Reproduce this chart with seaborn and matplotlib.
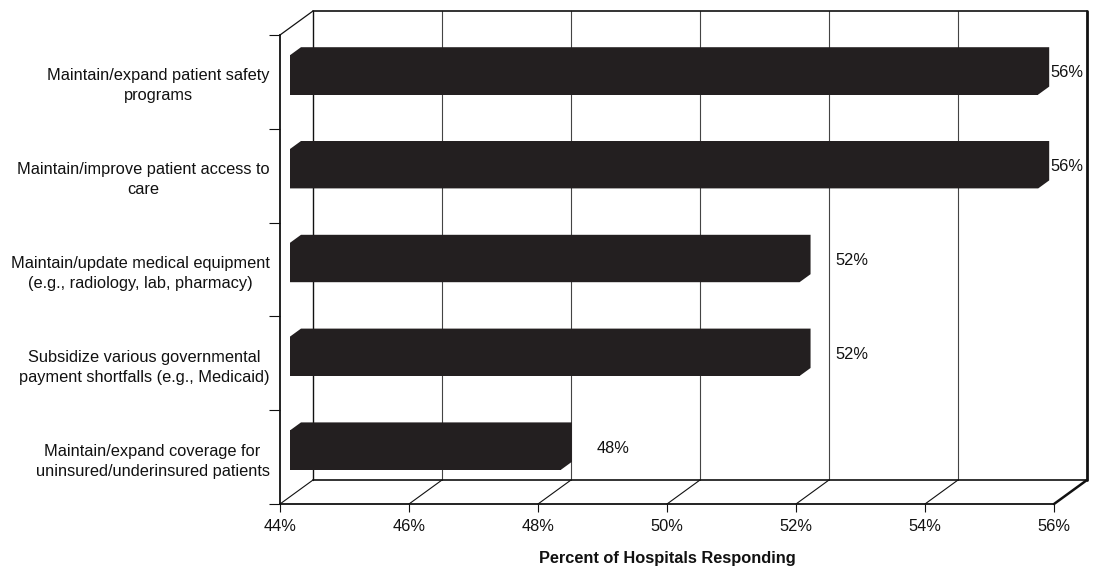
import matplotlib
matplotlib.use("Agg")
import matplotlib.pyplot as plt
import matplotlib.transforms as mtrans
from matplotlib.lines import Line2D
from matplotlib.patches import Polygon
import pandas as pd
import seaborn as sns

# ---- data -------------------------------------------------------------
categories = [
    "Maintain/expand patient safety\nprograms",
    "Maintain/improve patient access to\ncare",
    "Maintain/update medical equipment\n(e.g., radiology, lab, pharmacy)",
    "Subsidize various governmental\npayment shortfalls (e.g., Medicaid)",
    "Maintain/expand coverage for\nuninsured/underinsured patients",
]
percents = [55.6, 55.6, 51.9, 51.9, 48.2]
x_ticks = [44, 46, 48, 50, 52, 54, 56]
x_title = "Percent of Hospitals Responding"

# ---- style ------------------------------------------------------------
BAR = "#231f20"
INK = "#111111"
GRID = "#444444"
FS = 11.8

sns.set_theme(style="white")
plt.rcParams["font.family"] = ["Liberation Sans", "DejaVu Sans"]

DPI = 100
fig = plt.figure(figsize=(10.95, 5.67), dpi=DPI)
# axes = front plane of the pseudo-3D box
ax = fig.add_axes([280 / 1095, 63 / 567, 774 / 1095, 469 / 567])

df = pd.DataFrame({"category": categories, "percent": percents})
sns.barplot(data=df, x="percent", y="category", orient="h", color=BAR,
            saturation=1, width=0.42, ax=ax)

x_lo, x_hi = x_ticks[0], x_ticks[-1]
n = len(categories)
y_top, y_bot = -0.5, n - 0.5
ax.set_xlim(x_lo, x_hi)
ax.set_ylim(y_bot, y_top)


def shifted(dx, dy):
    """transData moved back into the depth of the box by (dx, dy) pixels."""
    return mtrans.offset_copy(ax.transData, fig=fig, x=dx, y=dy, units="dots")


WALL = (33, 24)          # depth of the box
BAR_FRONT = (10, 7)      # front face of the bars
BAR_BACK = (21, 15)      # back face of the bars

wall_tr = shifted(*WALL)
ident = mtrans.IdentityTransform()


def px(tr, x, y):
    return tuple(tr.transform((x, y)))


def seg(p, q, **kw):
    ax.add_line(Line2D([p[0], q[0]], [p[1], q[1]], transform=ident,
                       clip_on=False, **kw))


# back wall: gridlines and frame
for t in x_ticks:
    edge = t in (x_lo, x_hi)
    seg(px(wall_tr, t, y_bot), px(wall_tr, t, y_top),
        color=INK if edge else GRID,
        lw=2.0 if t == x_hi else (1.0 if edge else 0.8), zorder=1)
seg(px(wall_tr, x_lo, y_top), px(wall_tr, x_hi, y_top), color=INK, lw=1.2, zorder=1)
seg(px(wall_tr, x_lo, y_bot), px(wall_tr, x_hi, y_bot), color=INK, lw=1.2, zorder=1)

# floor diagonals and left wall top edge
for t in x_ticks:
    seg(px(ax.transData, t, y_bot), px(wall_tr, t, y_bot), color=INK,
        lw=1.8 if t == x_hi else 0.8, zorder=1)
seg(px(ax.transData, x_lo, y_top), px(wall_tr, x_lo, y_top), color=INK, lw=0.9, zorder=1)

# bars: seaborn's rectangles become the front faces, plus top/right faces
front_tr = shifted(*BAR_FRONT)
back_tr = shifted(*BAR_BACK)
bar_patches = list(ax.patches)
for rect in bar_patches:
    y0 = rect.get_y()
    y1 = y0 + rect.get_height()
    x1 = rect.get_x() + rect.get_width()
    rect.set_x(x_lo)
    rect.set_width(x1 - x_lo)
    rect.set_transform(front_tr)
    rect.set_clip_on(False)
    rect.set_edgecolor("none")
    rect.set_zorder(4)
    # silhouette of the box (y axis is inverted: y0 is the upper edge)
    hexagon = [
        px(front_tr, x_lo, y1), px(front_tr, x_lo, y0),
        px(back_tr, x_lo, y0), px(back_tr, x1, y0),
        px(back_tr, x1, y1), px(front_tr, x1, y1),
    ]
    ax.add_patch(Polygon(hexagon, closed=True, facecolor=BAR, edgecolor="none",
                         transform=ident, clip_on=False, zorder=4))

# value labels
label_tr = shifted(WALL[0], 9)
for i, v in enumerate(percents):
    ax.text(min(v + 0.2, x_hi - 0.57), i, f"{v:.0f}%", transform=label_tr,
            ha="left", va="center", fontsize=FS, color=INK, zorder=6)

# spines = front floor edge and front left edge
for side in ("top", "right"):
    ax.spines[side].set_visible(False)
for side in ("left", "bottom"):
    ax.spines[side].set_color(INK)
    ax.spines[side].set_linewidth(1.3)
    ax.spines[side].set_zorder(3)

ax.set_xticks(x_ticks)
ax.set_xticklabels([f"{t}%" for t in x_ticks])
ax.tick_params(axis="x", bottom=True, direction="out", length=6, width=0.8,
               color=INK, pad=5, labelsize=FS, labelcolor=INK)
ax.set_yticks(range(n))
ax.set_yticks([k - 0.5 for k in range(n + 1)], minor=True)
ax.tick_params(axis="y", which="major", left=True, length=0, pad=7.5,
               labelsize=FS, labelcolor=INK)
ax.tick_params(axis="y", which="minor", left=True, direction="out", length=8,
               width=0.8, color=INK)
for lbl in ax.get_yticklabels():
    lbl.set_multialignment("center")
    lbl.set_linespacing(1.42)

ax.set_ylabel("")
ax.set_xlabel(x_title, fontsize=FS, fontweight="bold", color=INK, labelpad=12)
ax.set_facecolor("white")
ax.grid(False)

fig.savefig("out.png", dpi=DPI, facecolor="white")
